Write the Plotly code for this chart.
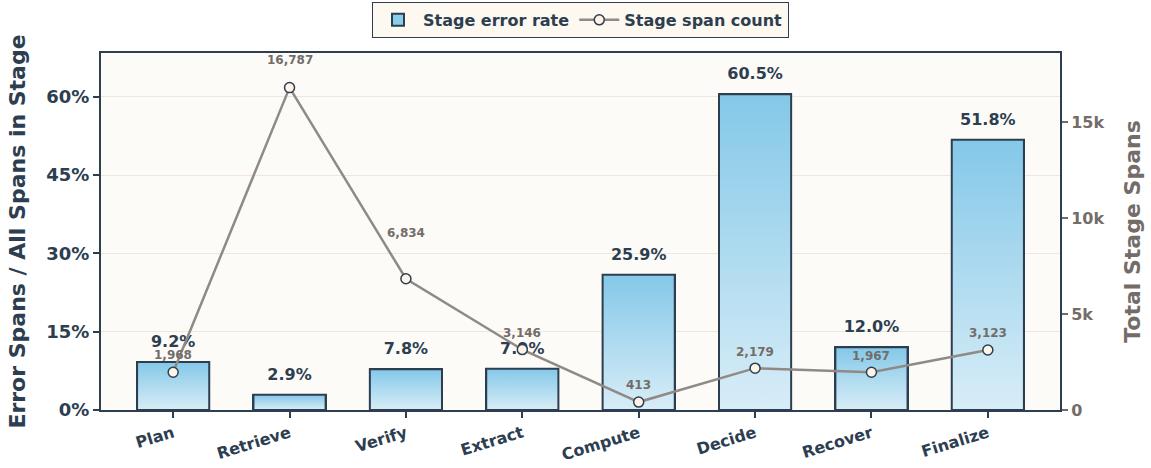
import plotly.graph_objects as go

stages = ["Plan", "Retrieve", "Verify", "Extract", "Compute", "Decide", "Recover", "Finalize"]
error_rate = [9.2, 2.9, 7.8, 7.9, 25.9, 60.5, 12.0, 51.8]
span_count = [1968, 16787, 6834, 3146, 413, 2179, 1967, 3123]
left_ticks = [0, 15, 30, 45, 60]
right_ticks = [0, 5000, 10000, 15000]
right_ticktext = ["0", "5k", "10k", "15k"]

FONT = "DejaVu Sans"
DARK = "#2c3e50"
GRAY = "#736d69"
LINE = "#8f8a85"
BAR_W = 0.62

idx = list(range(len(stages)))
fig = go.Figure()

# base bars (legend + underlay)
fig.add_trace(go.Bar(
    x=idx, y=error_rate, width=BAR_W, name="Stage error rate",
    marker=dict(color="#87ceeb", line=dict(color=DARK, width=2)),
    hoverinfo="skip",
))

# gradient overlay per bar
for i, v in zip(idx, error_rate):
    x0, x1 = i - BAR_W / 2, i + BAR_W / 2
    fig.add_trace(go.Scatter(
        x=[x0, x0, x1, x1, x0], y=[0, v, v, 0, 0],
        mode="lines", fill="toself",
        fillgradient=dict(type="vertical",
                          colorscale=[[0, "#d8edf7"], [1, "#84c8e8"]]),
        line=dict(color=DARK, width=2),
        showlegend=False, hoverinfo="skip",
    ))

# bar value labels
fig.add_trace(go.Scatter(
    x=idx, y=error_rate, mode="markers+text",
    text=[f"{v:.1f}%" for v in error_rate],
    textposition="top center",
    textfont=dict(family=FONT, size=16, color=DARK, weight="bold"),
    marker=dict(size=16, color="rgba(0,0,0,0)"),
    showlegend=False, hoverinfo="skip", cliponaxis=False,
))

# span count line
fig.add_trace(go.Scatter(
    x=idx, y=span_count, yaxis="y2", mode="lines+markers",
    name="Stage span count",
    line=dict(color=LINE, width=2.5),
    marker=dict(size=10, color="#fdf3e6", line=dict(color=DARK, width=1.5)),
    cliponaxis=False,
))

label_offsets = [17, 28, 46, 17, 17, 16, 16, 17]
for i, c, off in zip(idx, span_count, label_offsets):
    fig.add_annotation(
        x=i, y=c, xref="x", yref="y2", text=f"{c:,}", showarrow=False,
        yshift=off, yanchor="middle",
        font=dict(family=FONT, size=12, color=GRAY, weight="bold"),
    )

fig.update_layout(
    width=1151, height=468,
    margin=dict(l=101, r=91, t=53, b=58, autoexpand=False),
    paper_bgcolor="white",
    plot_bgcolor="#fdfbf7",
    font=dict(family=FONT, color=DARK),
    showlegend=True,
    legend=dict(
        orientation="h", x=0.5, xanchor="center", y=1.143, yanchor="top",
        bgcolor="#fdf8f0", bordercolor=DARK, borderwidth=1,
        font=dict(family=FONT, size=16, color=DARK, weight="bold"),
        itemwidth=40,
    ),
    bargap=0,
    xaxis=dict(
        range=[-0.62, 7.62], tickmode="array", tickvals=idx, ticktext=stages,
        tickangle=-17, ticks="outside", ticklen=6, tickcolor=DARK, tickwidth=1.5,
        tickfont=dict(family=FONT, size=16, color=DARK, weight="bold"),
        showline=True, linecolor=DARK, linewidth=2, mirror=True,
        showgrid=False, zeroline=False,
    ),
    yaxis=dict(
        range=[0, 68.4], tickmode="array", tickvals=left_ticks,
        ticktext=[f"{t}%" for t in left_ticks],
        ticks="outside", ticklen=6, tickcolor=DARK, tickwidth=1.5,
        tickfont=dict(family=FONT, size=18, color=DARK, weight="bold"),
        title=dict(text="Error Spans / All Spans in Stage",
                   font=dict(family=FONT, size=22, color=DARK, weight="bold"),
                   standoff=15),
        showline=True, linecolor=DARK, linewidth=2,
        showgrid=True, gridcolor="#f2e6da", gridwidth=1, zeroline=False,
    ),
    yaxis2=dict(
        overlaying="y", side="right", range=[0, 18590],
        tickmode="array", tickvals=right_ticks, ticktext=right_ticktext,
        ticks="outside", ticklen=6, tickcolor=GRAY, tickwidth=1.5,
        tickfont=dict(family=FONT, size=16, color=GRAY, weight="bold"),
        title=dict(text="Total Stage Spans",
                   font=dict(family=FONT, size=22, color=GRAY, weight="bold"),
                   standoff=21),
        showline=True, linecolor=DARK, linewidth=2,
        showgrid=False, zeroline=False,
    ),
)

# remove the default 8px page margin so the figure fills the window exactly
fig.write_html("out.html", config={"displayModeBar": False},
               post_script="document.body.style.margin='0px';")
